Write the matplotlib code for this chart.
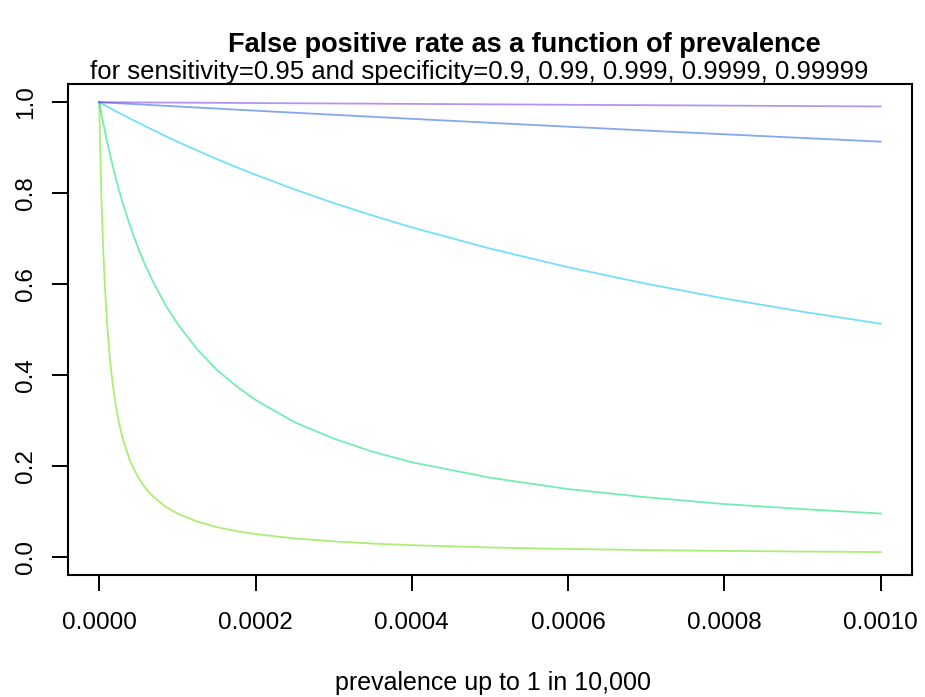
import matplotlib
matplotlib.use("Agg")
import matplotlib.pyplot as plt

plt.rcParams['font.family'] = ['Liberation Sans', 'DejaVu Sans']

# prevalence values (x)
prevalence = [0, 1e-6, 2e-6, 3e-6, 4e-6, 5e-6, 7e-6, 1e-5, 1.3e-5, 1.6e-5, 2e-5, 2.5e-5,
              3e-5, 4e-5, 5e-5, 6e-5, 7e-5, 8.5e-5, 1e-4, 1.25e-4, 1.5e-4, 1.75e-4, 2e-4,
              2.5e-4, 3e-4, 3.5e-4, 4e-4, 5e-4, 6e-4, 7e-4, 8e-4, 9e-4, 1e-3]

# false positive rate per specificity
fpr_spec_0_9 = [1.0, 1.0, 1.0, 1.0, 1.0, 1.0, 0.9999, 0.9999, 0.9999, 0.9998, 0.9998, 0.9998,
                0.9997, 0.9996, 0.9995, 0.9994, 0.9993, 0.9992, 0.9991, 0.9988, 0.9986, 0.9983,
                0.9981, 0.9976, 0.9972, 0.9967, 0.9962, 0.9953, 0.9943, 0.9934, 0.9925, 0.9915,
                0.9906]
fpr_spec_0_99 = [1.0, 0.9999, 0.9998, 0.9997, 0.9996, 0.9995, 0.9993, 0.9991, 0.9988, 0.9985,
                 0.9981, 0.9976, 0.9972, 0.9962, 0.9953, 0.9943, 0.9934, 0.9920, 0.9906, 0.9883,
                 0.9860, 0.9836, 0.9813, 0.9768, 0.9723, 0.9678, 0.9634, 0.9547, 0.9461, 0.9376,
                 0.9294, 0.9213, 0.9132]
fpr_spec_0_999 = [1.0, 0.9991, 0.9981, 0.9972, 0.9962, 0.9953, 0.9934, 0.9906, 0.9878, 0.9850,
                  0.9813, 0.9768, 0.9723, 0.9634, 0.9547, 0.9461, 0.9376, 0.9253, 0.9132, 0.8939,
                  0.8753, 0.8574, 0.8403, 0.8081, 0.7782, 0.7505, 0.7246, 0.6780, 0.6369, 0.6006,
                  0.5682, 0.5391, 0.5128]
fpr_spec_0_9999 = [1.0, 0.991, 0.981, 0.972, 0.963, 0.955, 0.938, 0.913, 0.890, 0.868, 0.840,
                   0.808, 0.778, 0.725, 0.678, 0.637, 0.601, 0.553, 0.513, 0.457, 0.412, 0.376,
                   0.345, 0.296, 0.260, 0.231, 0.208, 0.174, 0.149, 0.131, 0.116, 0.105, 0.0952]
fpr_spec_0_99999 = [1.0, 0.913, 0.840, 0.778, 0.725, 0.678, 0.601, 0.513, 0.447, 0.397, 0.345,
                    0.296, 0.260, 0.208, 0.174, 0.149, 0.131, 0.110, 0.0952, 0.0777, 0.0656,
                    0.0567, 0.0500, 0.0404, 0.0339, 0.0292, 0.0256, 0.0206, 0.0172, 0.0148,
                    0.0130, 0.0116, 0.0104]

series = [fpr_spec_0_99999, fpr_spec_0_9999, fpr_spec_0_999, fpr_spec_0_99, fpr_spec_0_9]
colors = ['#66E000', '#00E070', '#00C8F0', '#2060E0', '#7040E8']

xticks = [0, 0.0002, 0.0004, 0.0006, 0.0008, 0.0010]
xticklabels = ['0.0000', '0.0002', '0.0004', '0.0006', '0.0008', '0.0010']
yticks = [0.0, 0.2, 0.4, 0.6, 0.8, 1.0]
yticklabels = ['0.0', '0.2', '0.4', '0.6', '0.8', '1.0']

fig = plt.figure(figsize=(9.25, 6.97), dpi=100)
ax = fig.add_axes([68/925, 1-575/697, (912-68)/925, (575-84)/697])

for ys, c in zip(series, colors):
    ax.plot(prevalence, ys, color=c, alpha=0.55, lw=1.3)

ax.set_xlim(-0.00004, 0.00104)
ax.set_ylim(-0.04, 1.04)
ax.set_xticks(xticks)
ax.set_xticklabels(xticklabels, fontsize=17.5)
ax.set_yticks(yticks)
ax.set_yticklabels(yticklabels, fontsize=17.5, rotation=90, va='center')
ax.tick_params(axis='both', length=11.5, width=1.4, color='black')
ax.tick_params(axis='x', pad=15)
ax.tick_params(axis='y', pad=11)
for s in ax.spines.values():
    s.set_linewidth(1.5)

fig.text(524/925, 1-45/697, 'False positive rate as a function of prevalence',
         ha='center', va='center', fontsize=19.5, fontweight='bold')
fig.text(479/925, 1-72/697, 'for sensitivity=0.95 and specificity=0.9, 0.99, 0.999, 0.9999, 0.99999',
         ha='center', va='center', fontsize=18.5)
fig.text(493/925, 1-683/697, 'prevalence up to 1 in 10,000',
         ha='center', va='center', fontsize=18)

fig.savefig('out.png', dpi=100)
